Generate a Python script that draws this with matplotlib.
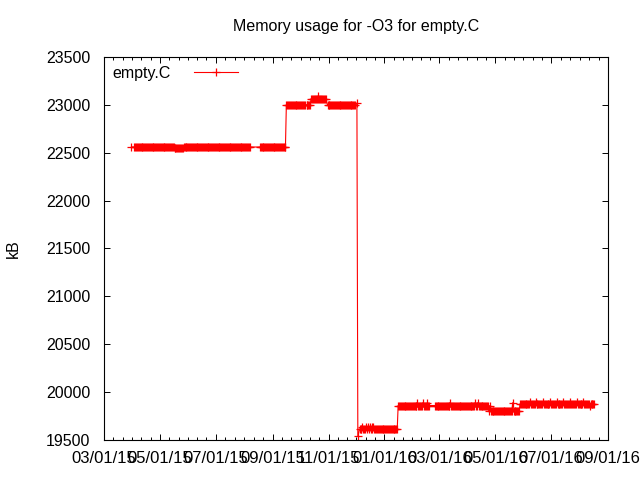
import matplotlib
matplotlib.use('Agg')
import matplotlib.pyplot as plt
import matplotlib.dates as mdates
import numpy as np
import pandas as pd

plt.rcParams['font.family'] = ['Liberation Sans', 'DejaVu Sans']

run_start = ['2015-03-31', '2015-04-03', '2015-05-17', '2015-05-27', '2015-08-18',
             '2015-09-16', '2015-10-08', '2015-10-13', '2015-10-31', '2015-12-02',
             '2015-12-03', '2015-12-05', '2016-01-16', '2016-02-25', '2016-04-24',
             '2016-05-28']
run_end = ['2015-03-31', '2015-05-16', '2015-05-26', '2015-08-07', '2015-09-15',
           '2015-10-06', '2015-10-12', '2015-10-29', '2015-11-30', '2015-12-02',
           '2015-12-03', '2016-01-15', '2016-02-19', '2016-04-23', '2016-05-27',
           '2016-08-17']
run_kb = [22560, 22560, 22545, 22560, 22560,
          23000, 23000, 23065, 23000, 23020,
          19540, 19615, 19860, 19860, 19800,
          19875]

# single days that stick out of their run
spike_day = ['2015-10-20', '2015-12-08', '2015-12-12', '2015-12-14', '2015-12-16',
             '2015-12-18', '2015-12-20', '2016-02-06', '2016-02-12', '2016-02-17',
             '2016-03-13', '2016-04-09', '2016-04-12', '2016-04-25', '2016-05-20',
             '2016-06-08', '2016-06-14', '2016-06-22', '2016-06-30', '2016-07-07',
             '2016-07-14', '2016-07-22', '2016-07-29', '2016-08-05', '2016-08-12']
spike_kb = [23090, 19640, 19640, 19640, 19640,
            19640, 19640, 19890, 19890, 19890,
            19890, 19890, 19890, 19860, 19890,
            19900, 19900, 19900, 19900, 19900,
            19900, 19900, 19900, 19900, 19850]

parts = []
for s, e, v in zip(run_start, run_end, run_kb):
    days = pd.date_range(s, e, freq='D')
    parts.append(pd.Series(v, index=days))
usage = pd.concat(parts)
for d, v in zip(spike_day, spike_kb):
    usage[pd.Timestamp(d)] = v
usage = usage.sort_index()

fs = 11.5

fig = plt.figure(figsize=(6.4, 4.8), dpi=100)
ax = fig.add_axes([104 / 640, 40 / 480, 504 / 640, 383 / 480])

ax.plot(usage.index, usage.values, color='red', lw=0.8, marker='+', ms=6, mew=0.9,
        label='empty.C')

ax.set_xlim(pd.Timestamp('2015-03-01'), pd.Timestamp('2016-09-01'))
ax.set_ylim(19500, 23500)
ax.set_yticks(np.arange(19500, 23501, 500))

ax.xaxis.set_major_locator(mdates.MonthLocator(bymonth=[1, 3, 5, 7, 9, 11]))
ax.xaxis.set_major_formatter(mdates.DateFormatter('%m/%d/%y'))
major = mdates.date2num(pd.date_range('2015-03-01', '2016-09-01', freq='2MS'))
minor = []
for a, b in zip(major[:-1], major[1:]):
    minor.extend(np.linspace(a, b, 7)[1:-1])
ax.set_xticks(minor, minor=True)

ax.tick_params(which='both', direction='in', top=True, right=True, width=0.7,
               colors='black')
ax.tick_params(axis='x', labelsize=12, pad=8)
ax.tick_params(axis='y', labelsize=fs, pad=10)
ax.tick_params(which='major', length=4)
ax.tick_params(which='minor', length=2)
for sp in ax.spines.values():
    sp.set_linewidth(0.8)

ax.set_ylabel('kB', fontsize=fs, labelpad=18)
fig.text(356 / 640, 1 - 27 / 480, 'Memory usage for -O3 for empty.C', ha='center',
         va='center', fontsize=fs)

ax.legend(loc='upper left', bbox_to_anchor=(0.0, 1.0), frameon=False, markerfirst=False,
          handlelength=2.8, handletextpad=1.4, fontsize=fs, borderaxespad=0.25,
          borderpad=0.3)

fig.savefig('out.png', dpi=100)
